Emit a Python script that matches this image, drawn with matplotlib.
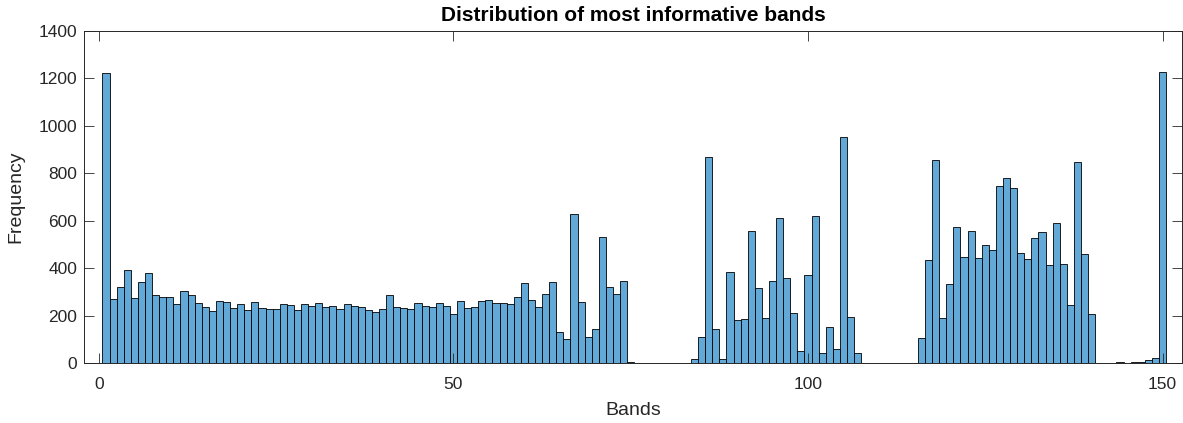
import matplotlib.pyplot as plt
import numpy as np

plt.rcParams['font.family'] = ['Liberation Sans', 'DejaVu Sans']

# counts per band (1..150)
bands = np.arange(1, 151)
counts = [
    1221, 270, 322, 391, 276, 343, 382, 286, 280, 281,
    251, 304, 286, 255, 238, 220, 262, 258, 234, 251,
    225, 259, 235, 228, 228, 248, 245, 225, 248, 241,
    253, 238, 241, 227, 251, 242, 238, 224, 218, 227,
    286, 237, 234, 228, 252, 241, 237, 255, 242, 209,
    263, 231, 238, 263, 267, 256, 256, 251, 279, 339,
    265, 238, 290, 342, 133, 102, 631, 259, 111, 144,
    533, 323, 290, 347, 4, 0, 0, 0, 0, 0,
    0, 0, 0, 17, 109, 868, 146, 20, 384, 181,
    185, 556, 318, 189, 346, 612, 358, 214, 52, 371,
    620, 45, 155, 59, 953, 195, 43, 0, 0, 0,
    0, 0, 0, 0, 0, 106, 437, 856, 189, 336,
    574, 448, 559, 442, 500, 476, 749, 781, 738, 466,
    438, 526, 553, 416, 589, 417, 245, 850, 462, 206,
    0, 0, 0, 4, 0, 7, 7, 14, 21, 1228,
]
xticks = [0, 50, 100, 150]
yticks = [0, 200, 400, 600, 800, 1000, 1200, 1400]

axis_col = '#262626'

fig = plt.figure(figsize=(11.83, 4.23), dpi=100)
ax = fig.add_axes([84 / 1183, 1 - 363.3 / 423, (1182 - 84) / 1183, (363.3 - 31) / 423])

ax.bar(bands, counts, width=1.0, color='#63a9d8', edgecolor='black', linewidth=0.6)

ax.set_xlim(-2.1, 152.75)
ax.set_ylim(0, 1400)
ax.set_xticks(xticks)
ax.set_yticks(yticks)

ax.tick_params(direction='in', length=7.5, width=0.6, colors=axis_col,
               labelsize=12.5, top=True, right=True, labelcolor=axis_col)
ax.tick_params(axis='x', pad=10)
ax.tick_params(axis='y', pad=5)
for s in ax.spines.values():
    s.set_color(axis_col)
    s.set_linewidth(0.7)

ax.set_xlabel('Bands', fontsize=14, color=axis_col, labelpad=7)
ax.set_ylabel('Frequency', fontsize=14, color=axis_col, labelpad=10)
ax.set_title('Distribution of most informative bands', fontsize=15, fontweight='bold',
             color='black', pad=7)

fig.savefig('out.png', dpi=100)
